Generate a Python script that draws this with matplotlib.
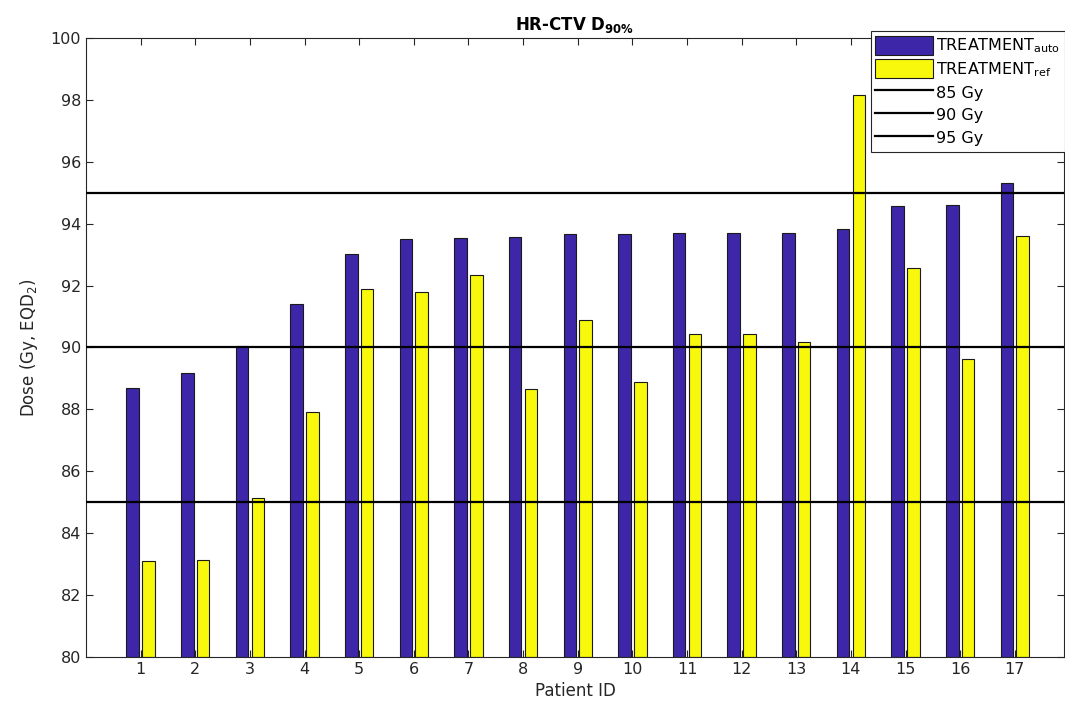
import numpy as np
import matplotlib
matplotlib.use('Agg')
import matplotlib.pyplot as plt

# values
patient_ids = list(range(1, 18))
dose_auto = [88.69, 89.19, 90.06, 91.42, 93.01, 93.50, 93.54, 93.58, 93.67,
             93.67, 93.71, 93.71, 93.71, 93.83, 94.58, 94.61, 95.31]
dose_ref = [83.10, 83.14, 85.14, 87.91, 91.89, 91.80, 92.34, 88.65, 90.89,
            88.90, 90.43, 90.43, 90.18, 98.17, 92.58, 89.64, 93.61]
thresholds = [85, 90, 95]
threshold_labels = ['85 Gy', '90 Gy', '95 Gy']

plt.rcParams['font.family'] = ['DejaVu Sans']
plt.rcParams['mathtext.default'] = 'regular'

grey = '#262626'

fig = plt.figure(figsize=(10.65, 7.11), dpi=100)
ax = fig.add_axes([86 / 1065, 54 / 711, (1064 - 86) / 1065, (657 - 38) / 711])

x = np.array(patient_ids)
w = 0.23
b1 = ax.bar(x - 0.145, np.array(dose_auto) - 80, w, bottom=80, color='#3D27A8',
            edgecolor='#1a1a1a', linewidth=0.8, label='TREATMENT$_{auto}$', zorder=2)
b2 = ax.bar(x + 0.145, np.array(dose_ref) - 80, w, bottom=80, color='#F8F80C',
            edgecolor='#1a1a1a', linewidth=0.8, label='TREATMENT$_{ref}$', zorder=2)

# reference dose levels
lines = []
for t, lab in zip(thresholds, threshold_labels):
    lines.append(ax.axhline(t, color='black', linewidth=1.6, label=lab, zorder=3))

ax.set_xlim(0, 17.9)
ax.set_ylim(80, 100)
ax.set_xticks(patient_ids)
ax.set_yticks(np.arange(80, 101, 2))
ax.tick_params(direction='in', top=True, right=True, length=5, width=0.8,
               colors=grey, labelsize=11.5, labelcolor=grey)
for s in ax.spines.values():
    s.set_color(grey)
    s.set_linewidth(0.8)

ax.set_xlabel('Patient ID', fontsize=12, color=grey, labelpad=4)
ax.set_ylabel('Dose (Gy, EQD$_2$)', fontsize=12, color=grey, labelpad=8)
ax.set_title(r'HR-CTV D$_{\mathbf{90\%}}$', fontsize=12, fontweight='bold', pad=6)

handles = [b1, b2] + lines
labels = ['TREATMENT$_{auto}$', 'TREATMENT$_{ref}$'] + threshold_labels
leg = fig.legend(handles, labels, loc='upper right',
                 bbox_to_anchor=(1.0, 1 - 31 / 711),
                 borderaxespad=0, fancybox=False, framealpha=1,
                 edgecolor=grey, fontsize=11.5, handlelength=3.6,
                 handleheight=1.45, labelspacing=0.25, handletextpad=0.2,
                 borderpad=0.3)
leg.get_frame().set_linewidth(0.8)

fig.savefig('out.png', dpi=100)
